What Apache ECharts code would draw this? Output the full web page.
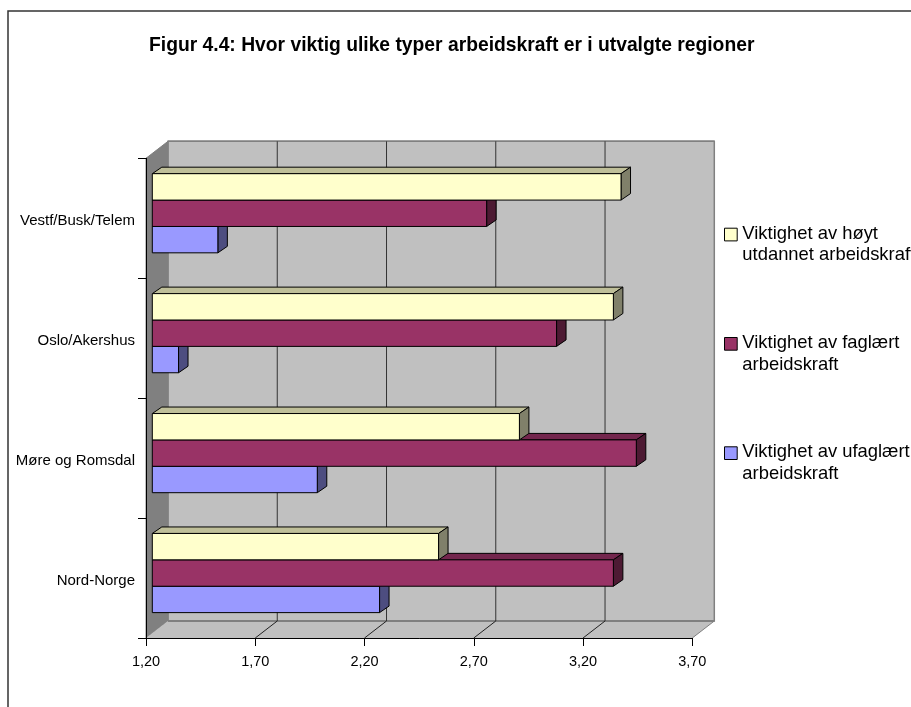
<!DOCTYPE html>
<html>
<head>
<meta charset="utf-8">
<style>html,body{margin:0;padding:0;background:#fff;overflow:hidden}#c{width:911px;height:707px}</style>
<script src="https://cdn.jsdelivr.net/npm/echarts@6/dist/echarts.min.js"></script>
</head>
<body>
<div id="c"></div>
<script>
const titleText = 'Figur 4.4: Hvor viktig ulike typer arbeidskraft er i utvalgte regioner';
const categories = ['Nord-Norge', 'Møre og Romsdal', 'Oslo/Akershus', 'Vestf/Busk/Telem'];
const nameHigh = 'Viktighet av høyt\nutdannet arbeidskraft';
const nameSkilled = 'Viktighet av faglært\narbeidskraft';
const nameUnskilled = 'Viktighet av ufaglært\narbeidskraft';
const valuesHigh = [2.51, 2.88, 3.31, 3.345];
const valuesSkilled = [3.31, 3.415, 3.05, 2.73];
const valuesUnskilled = [2.24, 1.955, 1.32, 1.50];
const xTicks = [1.2, 1.7, 2.2, 2.7, 3.2, 3.7];

const chart = echarts.init(document.getElementById('c'), null, {renderer: 'canvas'});
const FONT = '"Liberation Sans", Arial, sans-serif';
const DX = 22, DY = -17;            // depth of the plot box
const BDX = 9.5, BDY = -6.5;        // depth of a bar
const FX = 6.3, FY = -5;            // bar front plane inside the box
const BAR = 0.22;                   // bar thickness as share of a band

function poly(pts, fill, stroke, w) {
  return {type: 'polygon', shape: {points: pts},
    style: {fill: fill, stroke: stroke || null, lineWidth: w == null ? 1 : w}};
}
function line(a, b, stroke, w) {
  return {type: 'line', shape: {x1: a[0], y1: a[1], x2: b[0], y2: b[1]},
    style: {stroke: stroke, lineWidth: w || 1}};
}
function renderWalls(params, api) {
  const cs = params.coordSys;
  const L = cs.x, T = cs.y, R = cs.x + cs.width, B = cs.y + cs.height;
  const ch = [];
  ch.push(poly([[L + DX, T + DY], [R + DX, T + DY], [R + DX, B + DY], [L + DX, B + DY]], '#C0C0C0', '#808080', 1.5));
  ch.push(poly([[L, T], [L + DX, T + DY], [L + DX, B + DY], [L, B]], '#808080', '#808080', 1));
  ch.push(poly([[L, B], [R, B], [R + DX, B + DY], [L + DX, B + DY]], '#C0C0C0', null));
  ch.push(line([L + DX, B + DY], [R + DX, B + DY], '#808080', 2));
  ch.push(line([R, B], [R + DX, B + DY], '#808080', 1));
  ch.push(line([L + DX, T + DY], [R + DX, T + DY], '#808080', 1.5));
  xTicks.forEach(function (t, i) {
    const x = api.coord([t, 0])[0];
    if (i > 0 && i < xTicks.length - 1) {
      ch.push(line([x + DX, T + DY], [x + DX, B + DY], '#333333', 1));
      ch.push(line([x, B], [x + DX, B + DY], '#222222', 1));
    }
  });
  return {type: 'group', children: ch};
}
function barRenderer(slot, front, top, side) {
  return function (params, api) {
    const v = api.value(0), c = api.value(1);
    const band = api.size([0, 1])[1];
    const h = band * BAR;
    const end = api.coord([v, c]);
    const start = api.coord([1.2, c]);
    const y0 = end[1] + FY + (slot - 1.5) * h;
    const x0 = start[0] + FX, x1 = end[0] + FX, y1 = y0 + h;
    const e = '#000000';
    return {type: 'group', children: [
      poly([[x0, y0], [x0 + BDX, y0 + BDY], [x1 + BDX, y0 + BDY], [x1, y0]], top, e, 1),
      poly([[x1, y0], [x1 + BDX, y0 + BDY], [x1 + BDX, y1 + BDY], [x1, y1]], side, e, 1),
      poly([[x0, y0], [x1, y0], [x1, y1], [x0, y1]], front, e, 1)
    ]};
  };
}
function rows(vals) { return vals.map(function (v, i) { return [v, i]; }); }
function barSeries(name, vals, slot, front, top, side) {
  return {name: name, type: 'custom', coordinateSystem: 'cartesian2d', z: 3, clip: false,
    itemStyle: {color: front}, encode: {x: 0, y: 1},
    renderItem: barRenderer(slot, front, top, side), data: rows(vals), animation: false};
}
// icon: a box with empty tails, so the box lines up with the first text line
const ICON = 'path://M0,0L0,0M0,5.2H12.7V17.9H0ZM0,43L0,43';

chart.setOption({
  animation: false,
  backgroundColor: '#fff',
  title: {text: titleText, left: 144, top: 31,
    textStyle: {fontFamily: FONT, fontSize: 19.3, fontWeight: 'bold', color: '#000'}},
  grid: {left: 146, right: 218.7, top: 158.3, bottom: 69, containLabel: false},
  xAxis: {type: 'value', min: 1.2, max: 3.7, position: 'bottom', z: 5,
    splitLine: {show: false},
    axisLine: {show: true, onZero: false, lineStyle: {color: '#000'}},
    axisTick: {show: true, length: 8, customValues: xTicks, lineStyle: {color: '#000'}},
    axisLabel: {margin: 16, fontFamily: FONT, fontSize: 14.5, color: '#000', customValues: xTicks,
      showMinLabel: true, showMaxLabel: true,
      formatter: function (v) { return v.toFixed(2).replace('.', ','); }}},
  yAxis: {type: 'category', data: categories, z: 5,
    axisLine: {show: true, lineStyle: {color: '#000'}},
    axisTick: {show: true, length: 8, interval: 0, lineStyle: {color: '#000'}},
    axisLabel: {margin: 11, interval: 0, fontFamily: FONT, fontSize: 15, color: '#000',
      verticalAlign: 'top', padding: [-5, 0, 0, 0]}},
  legend: {show: true, orient: 'vertical', left: 724, top: 222.5, itemGap: 65.3, padding: 0,
    icon: ICON, itemWidth: 13, itemHeight: 43, itemStyle: {borderColor: '#000', borderWidth: 1},
    data: [nameHigh, nameSkilled, nameUnskilled], selectedMode: false,
    textStyle: {fontFamily: FONT, fontSize: 18.4, lineHeight: 21.7, color: '#000'}},
  series: [
    {name: 'walls', type: 'custom', coordinateSystem: 'cartesian2d', z: 1, clip: false,
      silent: true, renderItem: renderWalls, data: [[1.2, 0]], encode: {x: 0, y: 1}, animation: false},
    barSeries(nameUnskilled, valuesUnskilled, 2, '#9999FF', '#7373BF', '#4D4D80'),
    barSeries(nameSkilled, valuesSkilled, 1, '#993366', '#73264D', '#4D1A33'),
    barSeries(nameHigh, valuesHigh, 0, '#FFFFCC', '#BFBF99', '#80806A')
  ],
  graphic: [{type: 'rect', silent: true, z: 0,
    shape: {x: 8, y: 11, width: 1200, height: 1200},
    style: {fill: null, stroke: '#333333', lineWidth: 1.5}}]
});
</script>
</body>
</html>
